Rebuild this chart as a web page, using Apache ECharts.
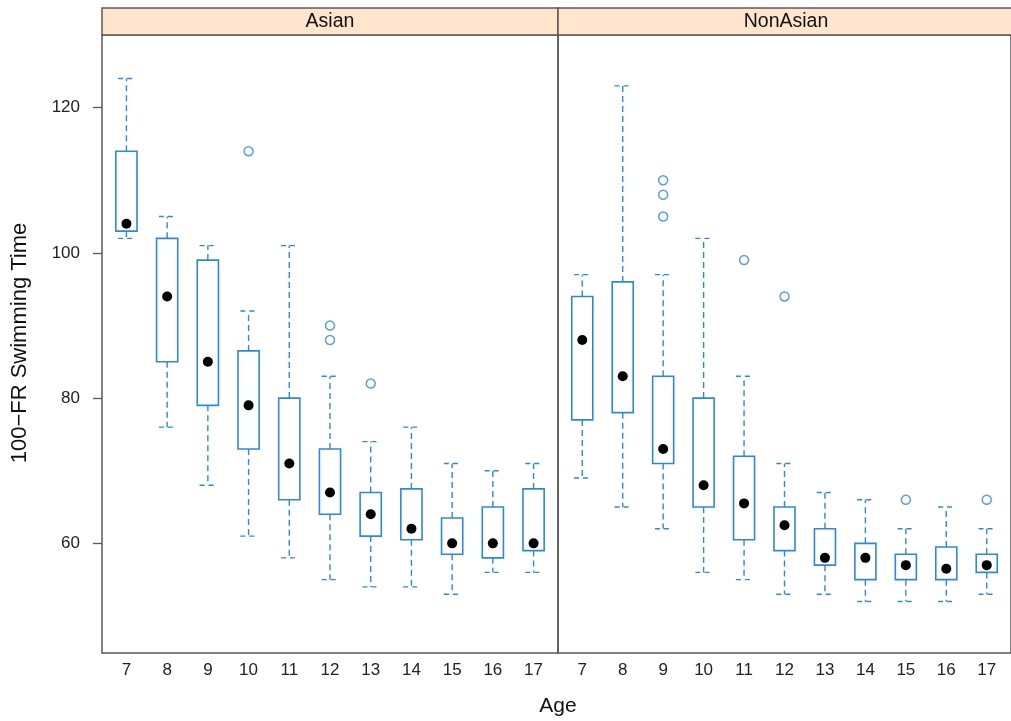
<!DOCTYPE html>
<html>
<head>
<meta charset="utf-8">
<script src="https://cdn.jsdelivr.net/npm/echarts@6/dist/echarts.min.js"></script>
<style>
html,body{margin:0;padding:0;background:#fff;}
#chart{width:1011px;height:721px;}
</style>
</head>
<body>
<div id="chart"></div>
<script>
// ---- data ----
const ages = [7, 8, 9, 10, 11, 12, 13, 14, 15, 16, 17];
const panels = ['Asian', 'NonAsian'];
const yTicks = [60, 80, 100, 120];
// [lower whisker, Q1, median, Q3, upper whisker] per age
const asianStats = [
  [102, 103, 104, 114, 124],
  [76, 85, 94, 102, 105],
  [68, 79, 85, 99, 101],
  [61, 73, 79, 86.5, 92],
  [58, 66, 71, 80, 101],
  [55, 64, 67, 73, 83],
  [54, 61, 64, 67, 74],
  [54, 60.5, 62, 67.5, 76],
  [53, 58.5, 60, 63.5, 71],
  [56, 58, 60, 65, 70],
  [56, 59, 60, 67.5, 71]
];
const nonAsianStats = [
  [69, 77, 88, 94, 97],
  [65, 78, 83, 96, 123],
  [62, 71, 73, 83, 97],
  [56, 65, 68, 80, 102],
  [55, 60.5, 65.5, 72, 83],
  [53, 59, 62.5, 65, 71],
  [53, 57, 58, 62, 67],
  [52, 55, 58, 60, 66],
  [52, 55, 57, 58.5, 62],
  [52, 55, 56.5, 59.5, 65],
  [53, 56, 57, 58.5, 62]
];
const asianOutliers = [[10, 114], [12, 90], [12, 88], [13, 82]];
const nonAsianOutliers = [[9, 110], [9, 108], [9, 105], [11, 99], [12, 94], [15, 66], [17, 66]];

// ---- style ----
const BLUE = '#2f87dd';
const FRAME = '#5a5a5a';
const FONT = '"Liberation Sans", Arial, Helvetica, sans-serif';

function toBoxData(stats) {
  return stats.map((s, i) => [ages[i]].concat(s));
}

function renderBox(params, api) {
  const x = api.value(0);
  const pLo = api.coord([x, api.value(1)]);
  const pQ1 = api.coord([x, api.value(2)]);
  const pMed = api.coord([x, api.value(3)]);
  const pQ3 = api.coord([x, api.value(4)]);
  const pHi = api.coord([x, api.value(5)]);
  const halfW = api.size([0.52, 0])[0] / 2;
  const capW = halfW * 0.78;
  const cx = pMed[0];
  const dashed = { stroke: BLUE, lineWidth: 1.4, lineDash: [6, 4], fill: null };
  const capStyle = { stroke: BLUE, lineWidth: 1.4, lineDash: [5, 4], fill: null };
  const solid = { stroke: BLUE, lineWidth: 1.6, fill: null };
  return {
    type: 'group',
    children: [
      { type: 'line', shape: { x1: cx, y1: pQ3[1], x2: cx, y2: pHi[1] }, style: dashed },
      { type: 'line', shape: { x1: cx, y1: pQ1[1], x2: cx, y2: pLo[1] }, style: dashed },
      { type: 'line', shape: { x1: cx - capW, y1: pHi[1], x2: cx + capW, y2: pHi[1] }, style: capStyle },
      { type: 'line', shape: { x1: cx - capW, y1: pLo[1], x2: cx + capW, y2: pLo[1] }, style: capStyle },
      { type: 'rect', shape: { x: cx - halfW, y: pQ3[1], width: 2 * halfW, height: pQ1[1] - pQ3[1] }, style: solid },
      { type: 'circle', shape: { cx: cx, cy: pMed[1], r: 5 }, style: { fill: '#000' } }
    ]
  };
}

const chart = echarts.init(document.getElementById('chart'), null, { renderer: 'canvas' });

const gridTop = 35, gridH = 618, gridW = 456;
const grids = [
  { left: 102, top: gridTop, width: gridW, height: gridH, show: true, borderColor: FRAME, borderWidth: 1.5, backgroundColor: 'transparent' },
  { left: 558, top: gridTop, width: gridW, height: gridH, show: true, borderColor: FRAME, borderWidth: 1.5, backgroundColor: 'transparent' }
];

function xAxisFor(i) {
  return {
    type: 'value', gridIndex: i, min: 6.4, max: 17.6,
    axisLine: { show: false }, axisTick: { show: false }, splitLine: { show: false },
    axisLabel: { customValues: ages, fontSize: 17, color: '#222', fontFamily: FONT, margin: 9 }
  };
}

const option = {
  animation: false,
  backgroundColor: '#fff',
  grid: grids,
  xAxis: [xAxisFor(0), xAxisFor(1)],
  yAxis: [
    {
      type: 'value', gridIndex: 0, min: 44.9, max: 130,
      axisLine: { show: false },
      axisTick: { show: true, customValues: yTicks, length: 9, lineStyle: { color: FRAME, width: 1.3 } },
      splitLine: { show: false },
      axisLabel: { customValues: yTicks, fontSize: 17, color: '#222', fontFamily: FONT, margin: 22 }
    },
    { type: 'value', gridIndex: 1, min: 44.9, max: 130, show: false, splitLine: { show: false } }
  ],
  series: [
    { type: 'custom', xAxisIndex: 0, yAxisIndex: 0, data: toBoxData(asianStats), renderItem: renderBox, encode: { x: 0, y: [1, 2, 3, 4, 5] }, clip: false },
    { type: 'custom', xAxisIndex: 1, yAxisIndex: 1, data: toBoxData(nonAsianStats), renderItem: renderBox, encode: { x: 0, y: [1, 2, 3, 4, 5] }, clip: false },
    { type: 'scatter', xAxisIndex: 0, yAxisIndex: 0, data: asianOutliers, symbol: 'circle', symbolSize: 9,
      itemStyle: { color: '#fff', borderColor: BLUE, borderWidth: 1.5 } },
    { type: 'scatter', xAxisIndex: 1, yAxisIndex: 1, data: nonAsianOutliers, symbol: 'circle', symbolSize: 9,
      itemStyle: { color: '#fff', borderColor: BLUE, borderWidth: 1.5 } }
  ],
  graphic: [
    { type: 'rect', shape: { x: 102, y: 8, width: gridW, height: 27 }, style: { fill: '#ffe5cc', stroke: FRAME, lineWidth: 1.5 }, z: 10 },
    { type: 'rect', shape: { x: 558, y: 8, width: gridW, height: 27 }, style: { fill: '#ffe5cc', stroke: FRAME, lineWidth: 1.5 }, z: 10 },
    { type: 'text', x: 102 + gridW / 2, y: 22, style: { text: panels[0], fontSize: 19.5, fontFamily: FONT, fill: '#111', textAlign: 'center', textVerticalAlign: 'middle' }, z: 11 },
    { type: 'text', x: 558 + gridW / 2, y: 22, style: { text: panels[1], fontSize: 19.5, fontFamily: FONT, fill: '#111', textAlign: 'center', textVerticalAlign: 'middle' }, z: 11 },
    { type: 'text', x: 558, y: 706, style: { text: 'Age', fontSize: 21, fontFamily: FONT, fill: '#111', textAlign: 'center', textVerticalAlign: 'middle' }, z: 11 },
    { type: 'text', x: 20, y: 343, rotation: Math.PI / 2, style: { text: '100\u2212FR Swimming Time', fontSize: 22, fontFamily: FONT, fill: '#111', textAlign: 'center', textVerticalAlign: 'middle' }, z: 11 }
  ]
};
chart.setOption(option);
</script>
</body>
</html>
